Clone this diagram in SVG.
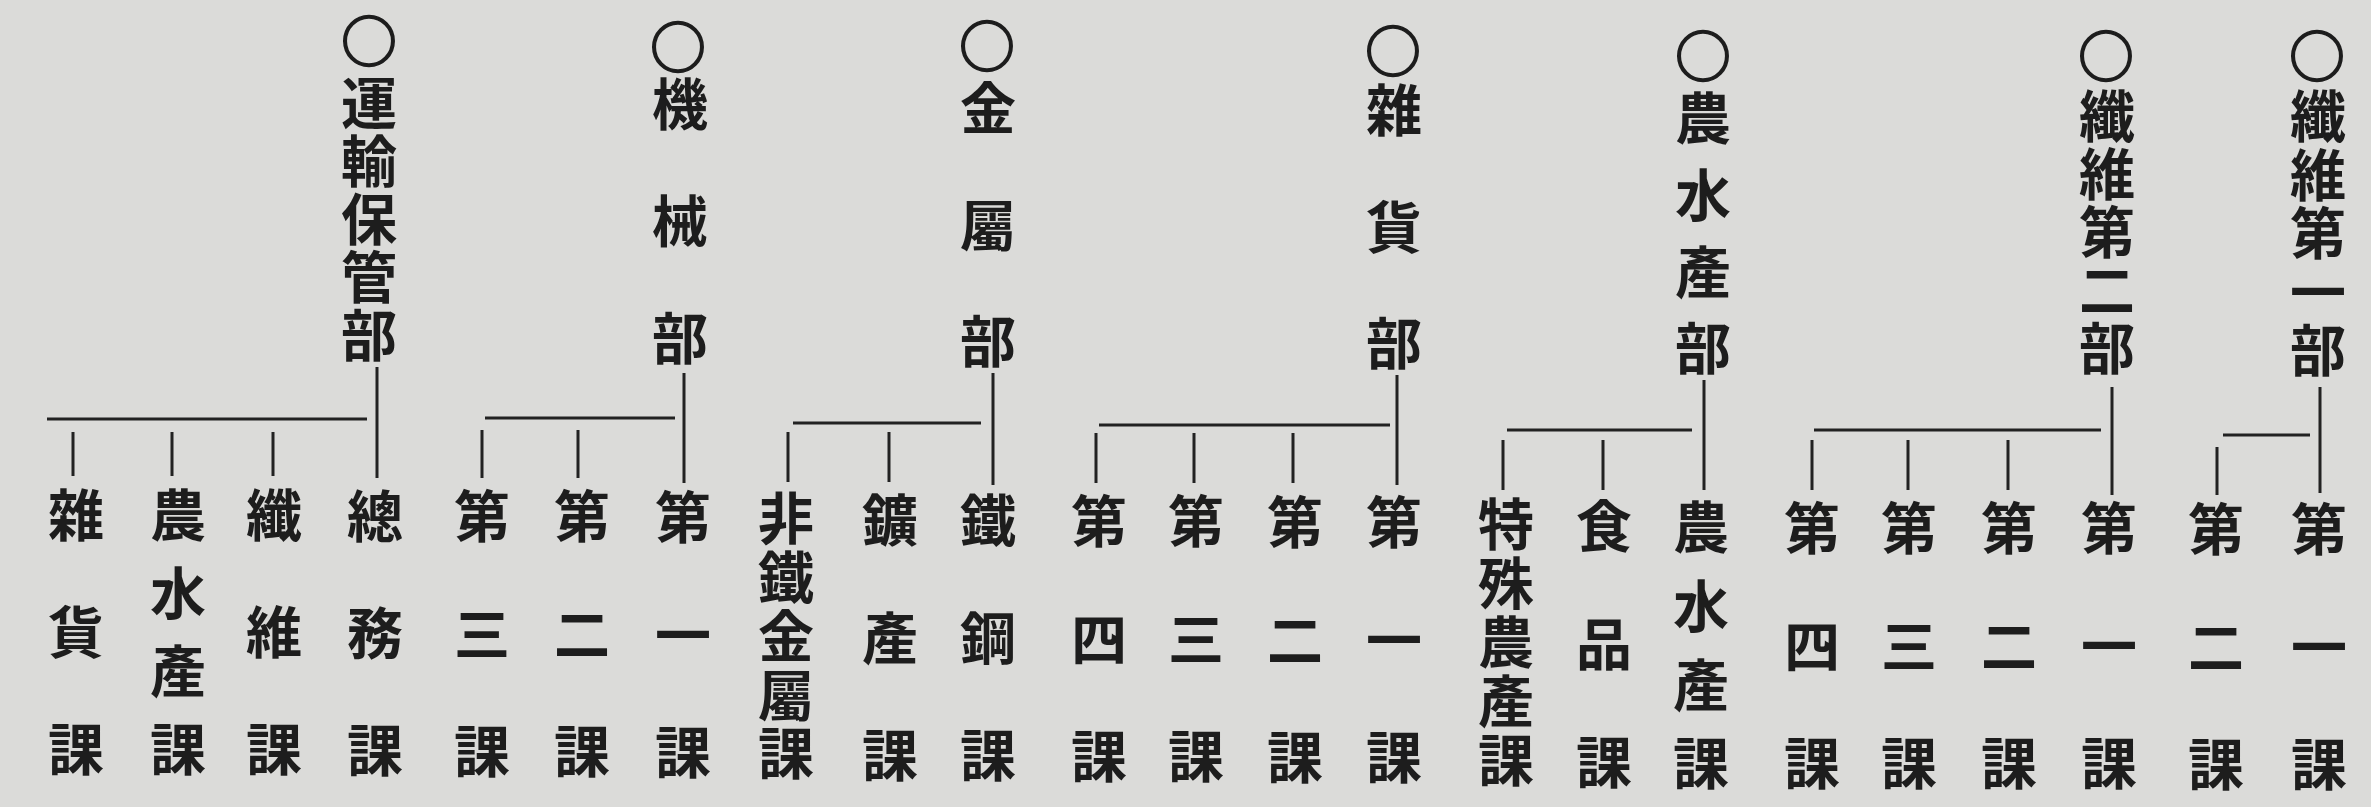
<svg xmlns="http://www.w3.org/2000/svg" width="2371" height="807" viewBox="0 0 2371 807">
<style>
.t{font-family:"Noto Sans CJK JP","Noto Sans CJK TC",sans-serif;font-size:56px;font-weight:700;fill:#1d1d1d;writing-mode:vertical-rl;text-anchor:start}
.c{stroke:#1d1d1d;stroke-width:1.6}
.w{letter-spacing:61.5px}
.n{letter-spacing:2.5px}
.ln{stroke:#222;stroke-width:3;fill:none}
</style>
<rect width="2371" height="807" fill="#dbdbd9"/>
<g id="connectors" class="ln">
<path d="M377 367V478M47 419H367M73 432V476M172 432V476M273 432V476"/>
<path d="M684 373V483M485 418H675M482 430V478M578 430V478"/>
<path d="M993 373V485M793 423H981M788 432V482M889 432V482"/>
<path d="M1397 375V485M1099 425H1390M1096 433V483M1194 433V483M1293 433V483"/>
<path d="M1704 380V490M1507 430H1692M1503 440V490M1603 440V490"/>
<path d="M2112 387V495M1814 430H2101M1812 440V490M1908 440V490M2008 440V490"/>
<path d="M2320 387V493M2223 435H2310M2217 447V495"/>
</g>
<g id="dept-unyu"><text class="t c" x="369" y="13">○</text><text class="t" x="369" y="75"><tspan style="letter-spacing:2px">運輸保管</tspan>部</text></g>
<g id="dept-kikai"><text class="t c" x="678" y="19">○</text><text class="t" x="680" y="76"><tspan style="letter-spacing:61px">機械</tspan>部</text></g>
<g id="dept-kinzoku"><text class="t c" x="987" y="18">○</text><text class="t" x="988" y="80"><tspan style="letter-spacing:60.5px">金屬</tspan>部</text></g>
<g id="dept-zakka"><text class="t c" x="1393" y="23">○</text><text class="t" x="1394" y="82"><tspan style="letter-spacing:60.5px">雜貨</tspan>部</text></g>
<g id="dept-nosui"><text class="t c" x="1703" y="28">○</text><text class="t" x="1703" y="90"><tspan style="letter-spacing:20.7px">農水產</tspan>部</text></g>
<g id="dept-seni2"><text class="t c" x="2106" y="28">○</text><text class="t" x="2107" y="88"><tspan style="letter-spacing:2px">纖維第二</tspan>部</text></g>
<g id="dept-seni1"><text class="t c" x="2317" y="28">○</text><text class="t" x="2318" y="88"><tspan class="n">纖維第一</tspan>部</text></g>
<g id="ka-zakka"><text class="t" x="76" y="487"><tspan style="letter-spacing:61px">雜貨</tspan>課</text></g>
<g id="ka-nosui1"><text class="t" x="178" y="487"><tspan style="letter-spacing:22px">農水產</tspan>課</text></g>
<g id="ka-seni"><text class="t" x="274" y="487"><tspan style="letter-spacing:61px">纖維</tspan>課</text></g>
<g id="ka-somu"><text class="t" x="375" y="488"><tspan style="letter-spacing:61px">總務</tspan>課</text></g>
<g id="ka-kikai3"><text class="t" x="482" y="488"><tspan class="w">第三</tspan>課</text></g>
<g id="ka-kikai2"><text class="t" x="582" y="488"><tspan class="w">第二</tspan>課</text></g>
<g id="ka-kikai1"><text class="t" x="683" y="489"><tspan class="w">第一</tspan>課</text></g>
<g id="ka-hitetsu"><text class="t" x="786" y="490"><tspan style="letter-spacing:2.75px">非鐵金屬</tspan>課</text></g>
<g id="ka-kosan"><text class="t" x="890" y="492"><tspan class="w">鑛產</tspan>課</text></g>
<g id="ka-tekko"><text class="t" x="988" y="492"><tspan class="w">鐵鋼</tspan>課</text></g>
<g id="ka-zakka4"><text class="t" x="1099" y="493"><tspan class="w">第四</tspan>課</text></g>
<g id="ka-zakka3"><text class="t" x="1196" y="493"><tspan class="w">第三</tspan>課</text></g>
<g id="ka-zakka2"><text class="t" x="1295" y="494"><tspan class="w">第二</tspan>課</text></g>
<g id="ka-zakka1"><text class="t" x="1394" y="494"><tspan class="w">第一</tspan>課</text></g>
<g id="ka-tokushu"><text class="t" x="1506" y="496"><tspan style="letter-spacing:3px">特殊農產</tspan>課</text></g>
<g id="ka-shokuhin"><text class="t" x="1604" y="498"><tspan style="letter-spacing:62px">食品</tspan>課</text></g>
<g id="ka-nosui2"><text class="t" x="1701" y="499"><tspan style="letter-spacing:22.7px">農水產</tspan>課</text></g>
<g id="ka-seni2-4"><text class="t" x="1812" y="500"><tspan class="w">第四</tspan>課</text></g>
<g id="ka-seni2-3"><text class="t" x="1909" y="500"><tspan class="w">第三</tspan>課</text></g>
<g id="ka-seni2-2"><text class="t" x="2009" y="500"><tspan class="w">第二</tspan>課</text></g>
<g id="ka-seni2-1"><text class="t" x="2109" y="500"><tspan class="w">第一</tspan>課</text></g>
<g id="ka-seni1-2"><text class="t" x="2216" y="501"><tspan class="w">第二</tspan>課</text></g>
<g id="ka-seni1-1"><text class="t" x="2319" y="501"><tspan class="w">第一</tspan>課</text></g>
</svg>
